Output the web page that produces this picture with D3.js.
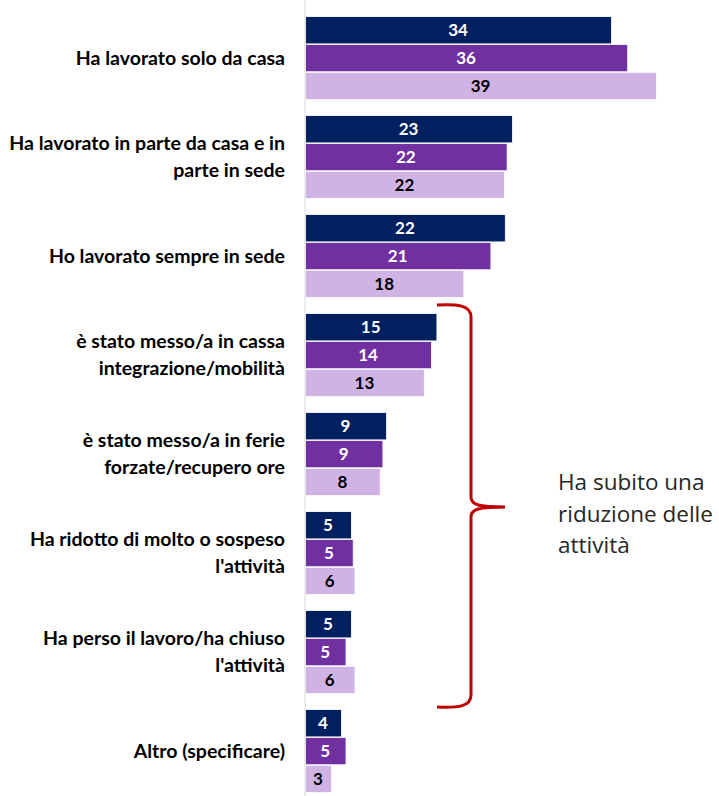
<!DOCTYPE html>
<html>
<head>
<meta charset="utf-8">
<script src="https://cdn.jsdelivr.net/npm/d3@7"></script>
<style>
  body { margin: 0; background: #fff; }
  svg { display: block; font-family: Lato, "Open Sans", sans-serif; }
</style>
</head>
<body>
<svg id="chart" width="719" height="796"></svg>
<script>
// categories (line breaks as in the original)
const categories = [
  'Ha lavorato solo da casa',
  'Ha lavorato in parte da casa e in\nparte in sede',
  'Ho lavorato sempre in sede',
  'è stato messo/a in cassa\nintegrazione/mobilità',
  'è stato messo/a in ferie\nforzate/recupero ore',
  'Ha ridotto di molto o sospeso\nl\'attività',
  'Ha perso il lavoro/ha chiuso\nl\'attività',
  'Altro (specificare)'
];
const seriesNames = ['s1', 's2', 's3'];
const s1 = [34.0, 23.0, 22.2, 14.6, 9.0, 5.1, 5.1, 4.0];
const s2 = [35.8, 22.4, 20.6, 14.0, 8.6, 5.3, 4.5, 4.5];
const s3 = [39.0, 22.1, 17.6, 13.2, 8.3, 5.5, 5.5, 2.9];
const seriesColors = ['#002060', '#7030a0', '#cfb3e5'];
const labelColors = ['#ffffff', '#ffffff', '#000000'];
const bracketText = ['Ha subito una', 'riduzione delle', 'attività'];

const svg = d3.select('#chart');
const axisX = 305;

const data = categories.map((c, i) => ({cat: c, vals: [s1[i], s2[i], s3[i]]}));

let x = d3.scaleLinear()
  .domain([0, 39])
  .range([axisX, axisX + 351]);

let y = d3.scaleBand()
  .domain(categories)
  .range([8.6, 800.6])
  .paddingInner(0.15)
  .paddingOuter(0.075);

let ySub = d3.scaleBand()
  .domain(seriesNames)
  .range([0, y.bandwidth()])
  .padding(0.02);

// bars
let groups = svg.append('g')
  .attr('class', 'bar-groups')
  .selectAll('g')
  .data(data)
  .join('g')
  .attr('transform', d => `translate(0, ${y(d.cat)})`);

groups.selectAll('rect')
  .data(d => d.vals.map((v, j) => ({v, j})))
  .join('rect')
  .attr('x', x(0) + 0.5)
  .attr('y', d => ySub(seriesNames[d.j]))
  .attr('width', d => x(d.v) - x(0))
  .attr('height', ySub.bandwidth())
  .style('fill', d => seriesColors[d.j])
  .style('stroke', '#ffffff')
  .style('stroke-width', 0.8);

groups.selectAll('text')
  .data(d => d.vals.map((v, j) => ({v, j})))
  .join('text')
  .attr('x', d => (x(0) + x(d.v)) / 2)
  .attr('y', d => ySub(seriesNames[d.j]) + ySub.bandwidth() / 2)
  .attr('dy', '0.36em')
  .style('text-anchor', 'middle')
  .style('font-weight', 'bold')
  .style('font-size', '17px')
  .style('fill', d => labelColors[d.j])
  .text(d => Math.round(d.v));

// vertical axis line
svg.append('line')
  .attr('x1', axisX)
  .attr('x2', axisX)
  .attr('y1', 0)
  .attr('y2', 796)
  .style('stroke', '#d9d9d9')
  .style('stroke-width', 1);

// category labels
let catLabels = svg.append('g')
  .attr('class', 'cat-labels')
  .selectAll('text')
  .data(categories)
  .join('text')
  .attr('x', 285)
  .attr('y', d => y(d) + y.bandwidth() / 2)
  .style('text-anchor', 'end')
  .style('font-weight', 'bold')
  .style('font-size', '19.5px')
  .style('fill', '#000');

catLabels.each(function(d) {
  let lines = d.split('\n');
  let lineH = 27;
  let start = -(lines.length - 1) * lineH / 2;
  d3.select(this).selectAll('tspan')
    .data(lines)
    .join('tspan')
    .attr('x', 285)
    .attr('dy', (l, i) => i === 0 ? start + 6.5 : lineH)
    .text(l => l);
});

// red curly bracket over the "reduction" categories
let braceTop = 305, braceBottom = 707, braceMid = 507;
let bx = 471, tipX = 437, midX = 505;
let brace = d3.path();
brace.moveTo(tipX, braceTop);
brace.bezierCurveTo(tipX + 20, braceTop - 1, bx, braceTop, bx, braceTop + 12);
brace.lineTo(bx, braceMid - 10);
brace.bezierCurveTo(bx, braceMid - 2, bx + 8, braceMid, midX, braceMid);
brace.bezierCurveTo(bx + 8, braceMid, bx, braceMid + 2, bx, braceMid + 10);
brace.lineTo(bx, braceBottom - 12);
brace.bezierCurveTo(bx, braceBottom, tipX + 20, braceBottom + 1, tipX, braceBottom);

svg.append('path')
  .attr('d', brace.toString())
  .style('fill', 'none')
  .style('stroke', '#c00000')
  .style('stroke-width', 3);

svg.append('g')
  .attr('class', 'bracket-text')
  .selectAll('text')
  .data(bracketText)
  .join('text')
  .attr('x', 558)
  .attr('y', (d, i) => 490 + i * 31.5)
  .style('font-family', '"Open Sans", sans-serif')
  .style('font-size', '22.5px')
  .style('fill', '#262626')
  .text(d => d);
</script>
</body>
</html>
